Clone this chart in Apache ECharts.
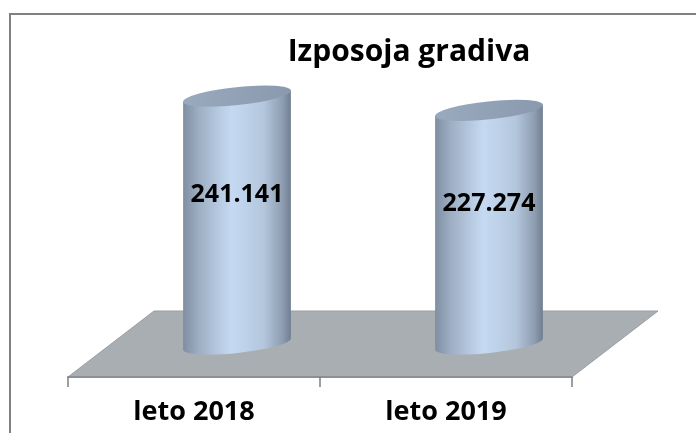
<!DOCTYPE html>
<html>
<head>
<meta charset="utf-8">
<title>Izposoja gradiva</title>
<script src="https://cdn.jsdelivr.net/npm/echarts@6/dist/echarts.min.js"></script>
<style>
  html, body { margin: 0; padding: 0; background: #fff; }
  #chart { width: 696px; height: 433px; }
</style>
</head>
<body>
<div id="chart"></div>
<script>
const categories = ["leto 2018", "leto 2019"];
const loans = [241141, 227274];

// 3D look: floor depth and cylinder placement (half way into the floor)
const FLOOR_DX = 86;
const FLOOR_DY = 66;
const TILT = 6 * Math.PI / 180;
const FONT = '"Open Sans", "Noto Sans", sans-serif';

function fmt(v) {
  return String(v).replace(/\B(?=(\d{3})+(?!\d))/g, ".");
}

const chart = echarts.init(document.getElementById("chart"));

function renderFloor(params, api) {
  const cs = params.coordSys;
  const x0 = cs.x, x1 = cs.x + cs.width, y = cs.y + cs.height;
  return {
    type: "polygon",
    shape: {
      points: [
        [x0, y],
        [x1, y],
        [x1 + FLOOR_DX, y - FLOOR_DY],
        [x0 + FLOOR_DX, y - FLOOR_DY],
      ],
    },
    style: { fill: "#a9aeb3", stroke: "#9a9ea3", lineWidth: 1 },
    silent: true,
  };
}

function renderCylinder(params, api) {
  const idx = api.value(0);
  const base = api.coord([idx, 0]);
  const top = api.coord([idx, api.value(1)]);
  const bandW = api.size([1, 0])[0];
  const rx = bandW * 0.215;
  const ry = 9;
  const cx = base[0] + FLOOR_DX / 2;
  const yb = base[1] - FLOOR_DY / 2;
  const yt = top[1] - FLOOR_DY / 2;
  const ex = rx * Math.cos(TILT);
  const ey = rx * Math.sin(TILT);
  const deg = -TILT * 180 / Math.PI;

  const body =
    `M ${cx - ex} ${yt + ey} L ${cx - ex} ${yb + ey} ` +
    `A ${rx} ${ry} ${deg} 0 0 ${cx + ex} ${yb - ey} ` +
    `L ${cx + ex} ${yt - ey} Z`;
  const cap =
    `M ${cx - ex} ${yt + ey} A ${rx} ${ry} ${deg} 0 1 ${cx + ex} ${yt - ey} ` +
    `A ${rx} ${ry} ${deg} 0 1 ${cx - ex} ${yt + ey} Z`;

  return {
    type: "group",
    children: [
      {
        type: "path",
        shape: { pathData: body },
        style: {
          fill: new echarts.graphic.LinearGradient(0, 0, 1, 0, [
            { offset: 0, color: "#7f8da0" },
            { offset: 0.15, color: "#9eafc4" },
            { offset: 0.45, color: "#c5daf2" },
            { offset: 0.75, color: "#b3c6dc" },
            { offset: 0.92, color: "#8e9db1" },
            { offset: 1, color: "#6f7d8f" },
          ]),
        },
      },
      {
        type: "path",
        shape: { pathData: cap },
        style: {
          fill: new echarts.graphic.LinearGradient(0, 0, 1, 0, [
            { offset: 0, color: "#9aaabe" },
            { offset: 1, color: "#8a99ad" },
          ]),
        },
      },
      {
        type: "text",
        x: cx,
        y: yt + (yb - yt) * 0.4,
        style: {
          text: fmt(api.value(1)),
          fill: "#000",
          fontSize: 25,
          fontWeight: "bold",
          fontFamily: FONT,
          align: "center",
          verticalAlign: "middle",
        },
      },
    ],
  };
}

const option = {
  backgroundColor: "#fff",
  animation: false,
  title: {
    text: "Izposoja gradiva",
    left: 404,
    top: 32,
    textAlign: "center",
    textStyle: {
      color: "#000",
      fontSize: 30,
      fontWeight: "bold",
      fontFamily: FONT,
    },
  },
  graphic: [
    {
      type: "rect",
      shape: { x: 10, y: 14, width: 720, height: 460 },
      style: { fill: null, stroke: "#808080", lineWidth: 2 },
      silent: true,
    },
  ],
  grid: { left: 68, right: 124, top: 120, bottom: 56 },
  xAxis: {
    type: "category",
    data: categories,
    axisLine: { lineStyle: { color: "#8c9094", width: 2 } },
    axisTick: { show: true, length: 10, lineStyle: { color: "#7f7f7f", width: 1.5 } },
    axisLabel: {
      color: "#000",
      fontSize: 27,
      fontWeight: "bold",
      fontFamily: FONT,
      margin: 22,
    },
    z: 5,
  },
  yAxis: {
    type: "value",
    min: 0,
    max: 250000,
    show: false,
    splitLine: { show: false },
  },
  series: [
    {
      type: "custom",
      name: "floor",
      renderItem: renderFloor,
      data: [[0, 0]],
      z: 1,
      silent: true,
    },
    {
      type: "custom",
      name: "Izposoja gradiva",
      renderItem: renderCylinder,
      data: loans.map((v, i) => [i, v]),
      encode: { x: 0, y: 1 },
      z: 2,
    },
  ],
};

chart.setOption(option);
</script>
</body>
</html>
